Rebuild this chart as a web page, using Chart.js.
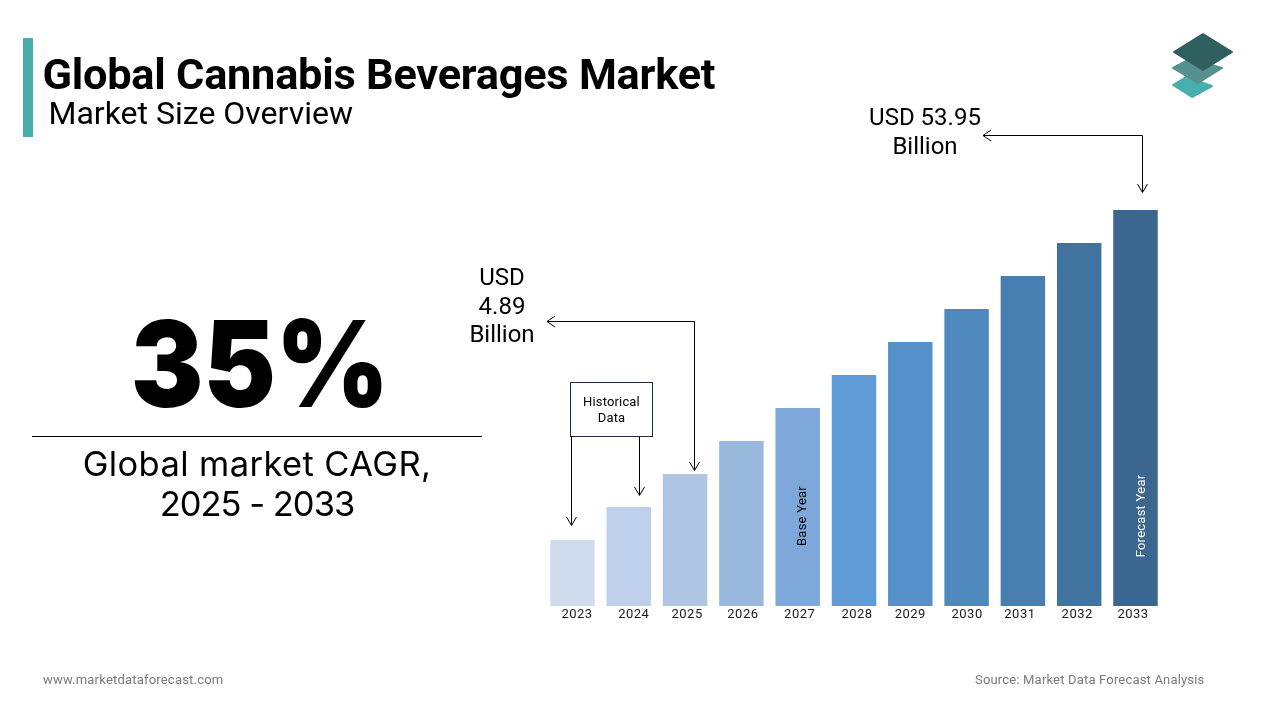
<!DOCTYPE html>
<html><head><meta charset="utf-8">
<script src="https://cdn.jsdelivr.net/npm/chart.js@4"></script>
<style>
html,body{margin:0;padding:0;background:#fff;width:1280px;height:720px;overflow:hidden;font-family:Roboto,sans-serif;color:#000}
#c{position:absolute;left:0;top:0}
.t{position:absolute;white-space:nowrap;line-height:1}
.ctr{text-align:center}
svg{position:absolute;left:0;top:0}
</style></head><body>
<canvas id="c" width="1280" height="720" style="width:1280px;height:720px"></canvas>
<svg width="1280" height="720" fill="none" stroke="#000" stroke-width="1">
<path d="M1142.500 135.500H983M991 130l-8 5.500 8 5.500M1142.500 135.500V192M1137.500 184l5 8.500 5-8.500"/>
<path d="M694.500 321.500H547M555 316l-8 5.500 8 5.500M694.500 321.500V470M689.500 462l5 8.500 5-8.500"/>
<path d="M571.500 437V525M566.500 517l5 8.500 5-8.500M639.500 437V495M634.500 487l5 8.500 5-8.500"/>
<rect x="570.500" y="382.500" width="82" height="54" stroke="#1c2b3f"/>
<rect x="23" y="38" width="10" height="99" fill="#4bacac" stroke="none"/>
<g stroke-linejoin="round" stroke-width="2">
<path d="M1173 85l13-8 26 9-20 11z" fill="#48afaf" stroke="#48afaf"/>
<path d="M1173 68l17-9 32 9-24 15z" fill="#56908f" stroke="#56908f"/>
<path d="M1174 52l29-18 29 18-29 18z" fill="#2f5f5e" stroke="#2f5f5e"/>
</g>
</svg>
<div class="t" style="left:42.500px;top:52.500px;font-size:43.300px;font-weight:700;letter-spacing:-.23px">Global Cannabis Beverages Market</div>
<div class="t" style="left:48.500px;top:97px;font-size:32px">Market Size Overview</div>
<div class="t ctr" style="left:110px;top:304px;width:300px;font-size:120px;font-weight:900;font-family:Inter,Roboto,sans-serif;transform:scaleX(.905)">35%</div>
<div style="position:absolute;left:32px;top:436px;width:450px;height:1px;background:#000"></div>
<div class="t ctr" style="left:33px;top:444px;width:448px;font-size:34.500px;line-height:40px;font-family:Inter,Roboto,sans-serif"><span style="letter-spacing:.4px">Global market CAGR,</span><br><span style="letter-spacing:-1px">2025 - 2033</span></div>
<div class="t ctr" style="left:840px;top:103px;width:170px;font-size:24px;line-height:29px">USD 53.95<br>Billion</div>
<div class="t ctr" style="left:452px;top:263px;width:100px;font-size:24px;line-height:28.500px">USD<br>4.89<br>Billion</div>
<div class="t ctr" style="left:570.500px;top:394px;width:82px;font-size:13px;line-height:16px;letter-spacing:.15px">Historical<br>Data</div>
<div class="t" style="left:801px;top:516px;font-size:13px;transform:translate(-50%,-50%) rotate(-90deg);letter-spacing:.25px">Base Year</div>
<div class="t" style="left:1140px;top:515.500px;font-size:13px;color:#fff;transform:translate(-50%,-50%) rotate(-90deg);letter-spacing:.25px">Forecast Year</div>
<div class="t" style="left:43px;top:673px;font-size:13px;color:#7a7a7a;letter-spacing:.2px">www.marketdataforecast.com</div>
<div class="t" style="left:975px;top:673px;font-size:13px;color:#7a7a7a;letter-spacing:.18px">Source: Market Data Forecast Analysis</div>
<script>
const years=['2023','2024','2025','2026','2027','2028','2029','2030','2031','2032','2033'];
const marketSize=[8.99,13.49,17.98,22.48,26.97,31.47,35.96,40.46,44.96,49.45,53.95];
const barColors=['#d0dcee','#bed0e9','#aec6e4','#98b8de','#7ea8d9','#5f9bd6','#5791c9','#4f88bc','#497eb0','#41739f','#3a668f'];
const tickNudge=[4.5,5,2,1.5,2,3,0,0.5,-3,-2,-2.5];
new Chart(document.getElementById('c'),{
 type:'bar',
 data:{labels:years,datasets:[{data:marketSize,backgroundColor:barColors,barPercentage:.79,categoryPercentage:1,borderWidth:0}]},
 options:{responsive:false,animation:false,devicePixelRatio:1,
  layout:{padding:{left:544.35,right:116.35,top:210,bottom:96.4}},
  plugins:{legend:{display:false},tooltip:{enabled:false}},
  scales:{
   x:{grid:{display:false,drawTicks:false},border:{display:false},
      ticks:{color:'#1a1a1a',font:{family:'Roboto',size:13},padding:1,maxRotation:0,autoSkip:false}},
   y:{display:false,min:0,max:53.95}
  }
 },
 plugins:[{id:'tickTweak',beforeDraw(ch){
   ch.ctx.letterSpacing='0.5px';
   ch.scales.x.getLabelItems().forEach((it,i)=>{it.options.translation[0]+=tickNudge[i];});
 }}]
});
</script>
</body></html>
